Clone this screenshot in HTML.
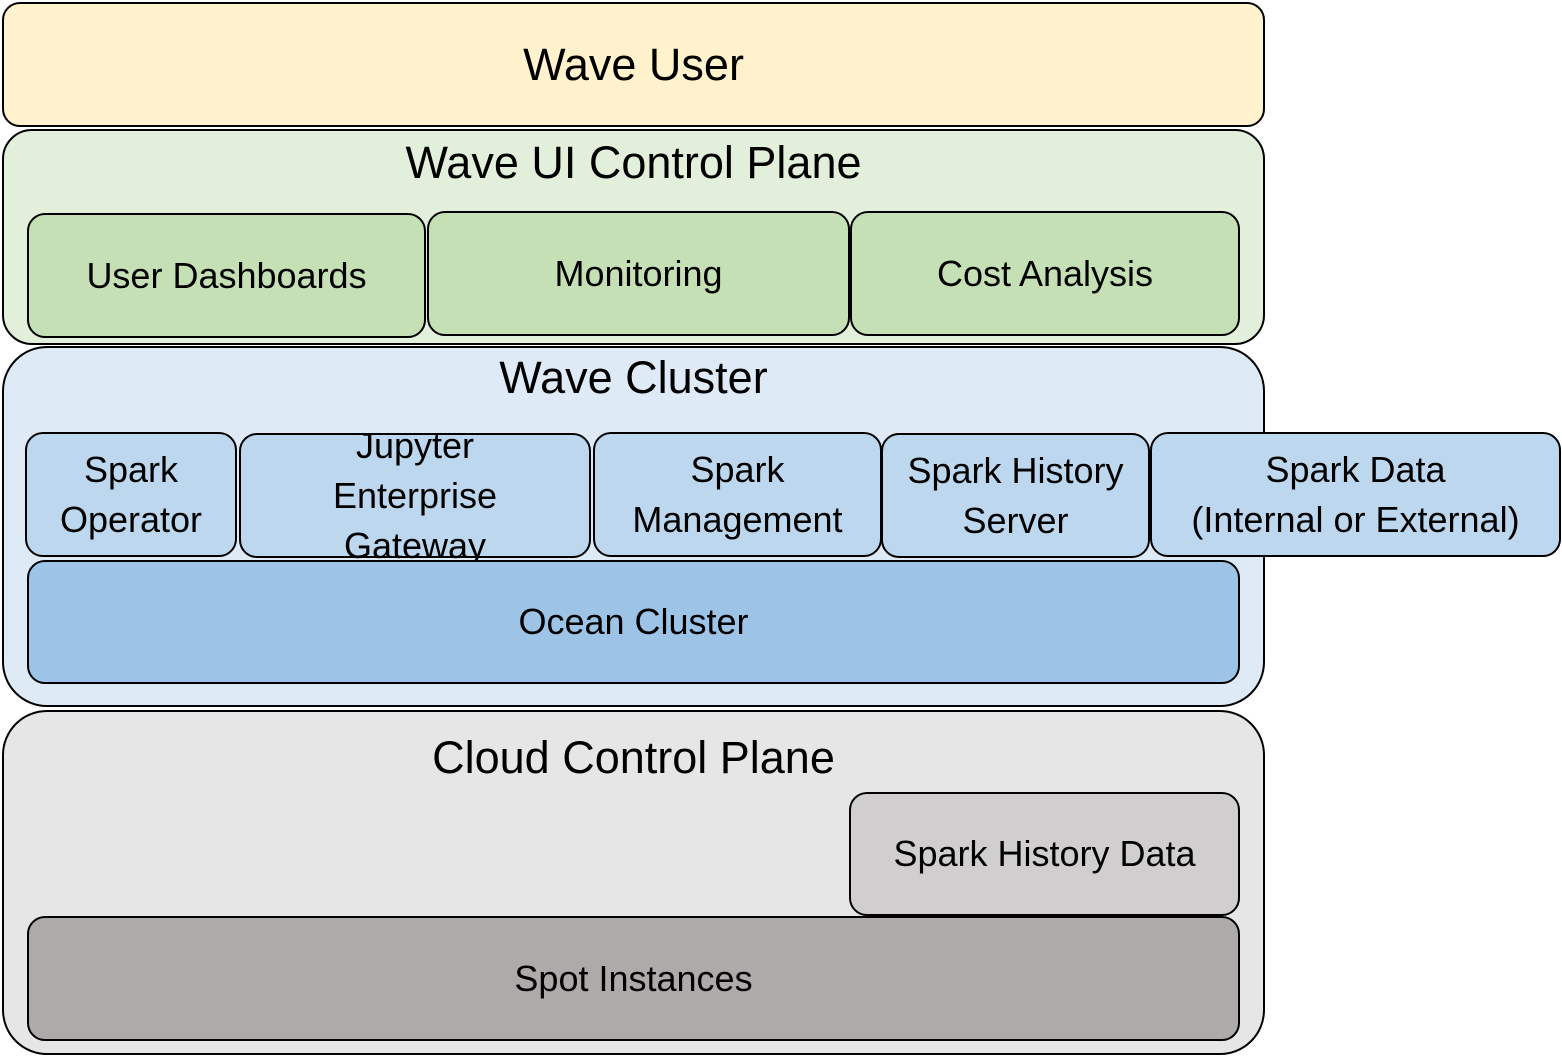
<!DOCTYPE html>
<html><head><meta charset="utf-8"><style>
body{margin:0;width:1562px;height:1056px;background:#fff;position:relative;overflow:hidden;font-family:"Liberation Sans",sans-serif;}
.b{position:absolute;box-sizing:border-box;border:2px solid #000;display:flex;align-items:center;justify-content:center;text-align:center;color:#000;font-size:36px;line-height:50px;}
.t{position:absolute;left:2px;width:1263px;text-align:center;font-size:45px;line-height:50px;}
</style></head><body>
<div class="b" style="left:2px;top:2px;width:1263px;height:125px;background:#fff2cc;border-radius:18px;font-size:45px;">Wave User</div>

<div class="b" style="left:2px;top:129px;width:1263px;height:216px;background:#e2efda;border-radius:30px;"></div>
<div class="t" style="top:138px;">Wave UI Control Plane</div>
<div class="b" style="left:27px;top:213px;width:399px;height:125px;background:#c5e0b4;border-radius:18px;">User Dashboards</div>
<div class="b" style="left:427px;top:211px;width:423px;height:125px;background:#c5e0b4;border-radius:18px;">Monitoring</div>
<div class="b" style="left:850px;top:211px;width:390px;height:125px;background:#c5e0b4;border-radius:18px;">Cost Analysis</div>

<div class="b" style="left:2px;top:346px;width:1263px;height:361px;background:#deebf7;border-radius:45px;"></div>
<div class="t" style="top:353px;">Wave Cluster</div>
<div class="b" style="left:25px;top:432px;width:212px;height:125px;background:#bdd7ee;border-radius:18px;">Spark<br>Operator</div>
<div class="b" style="left:239px;top:433px;width:352px;height:125px;background:#bdd7ee;border-radius:18px;overflow:visible;">Jupyter<br>Enterprise<br>Gateway</div>
<div class="b" style="left:593px;top:432px;width:289px;height:125px;background:#bdd7ee;border-radius:18px;">Spark<br>Management</div>
<div class="b" style="left:881px;top:433px;width:269px;height:125px;background:#bdd7ee;border-radius:18px;white-space:nowrap;">Spark History<br>Server</div>
<div class="b" style="left:1150px;top:432px;width:411px;height:125px;background:#bdd7ee;border-radius:18px;white-space:nowrap;">Spark Data<br>(Internal or External)</div>
<div class="b" style="left:27px;top:560px;width:1213px;height:124px;background:#9dc3e6;border-radius:18px;">Ocean Cluster</div>

<div class="b" style="left:2px;top:710px;width:1263px;height:345px;background:#e7e6e6;border-radius:45px;"></div>
<div class="t" style="top:733px;">Cloud Control Plane</div>
<div class="b" style="left:849px;top:792px;width:391px;height:124px;background:#d0cece;border-radius:18px;">Spark History Data</div>
<div class="b" style="left:27px;top:916px;width:1213px;height:125px;background:#aeaaaa;border-radius:18px;">Spot Instances</div>
</body></html>
